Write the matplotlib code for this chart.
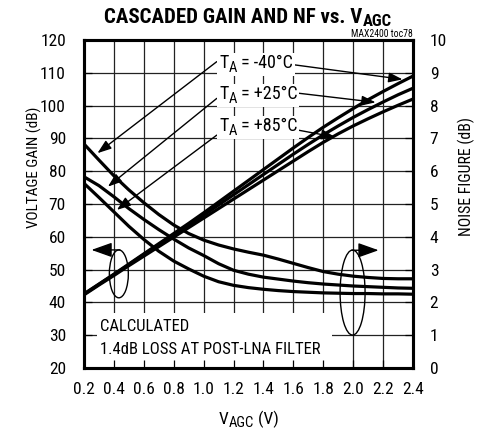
import numpy as np
import matplotlib
matplotlib.use('Agg')
import matplotlib.pyplot as plt
from matplotlib import font_manager as fm
from matplotlib.font_manager import FontProperties
from matplotlib.transforms import IdentityTransform
from matplotlib.patches import Ellipse, Rectangle


def find_narrow(bold=False):
    # look for a condensed sans face among the installed fonts
    best = None
    for f in fm.fontManager.ttflist:
        narrow = ('Narrow' in f.name or 'Condensed' in f.name
                  or 'condensed' in str(f.stretch)
                  or 'Narrow' in f.fname or 'Condensed' in f.fname)
        if not narrow or f.style != 'normal':
            continue
        w = f.weight if isinstance(f.weight, int) else 700 if 'bold' in str(f.weight) else 400
        ok = (w >= 600) if bold else (w < 600)
        if not ok:
            continue
        score = 0
        if 'Liberation' in f.name:
            score = 3
        elif 'Roboto' in f.name:
            score = 2
        elif 'DejaVu' in f.name:
            score = 1
        if best is None or score > best[0]:
            best = (score, f.fname)
    return best[1] if best else None


reg_file = find_narrow(False)
bold_file = find_narrow(True)
if reg_file:
    fp_reg = lambda s: FontProperties(fname=reg_file, size=s)
else:
    fp_reg = lambda s: FontProperties(family='Liberation Sans', size=s * 0.85)
if bold_file:
    fp_bold = lambda s: FontProperties(fname=bold_file, size=s)
else:
    fp_bold = lambda s: FontProperties(family='Liberation Sans', weight='bold', size=s * 0.85)

vagc = [0.2, 0.3, 0.4, 0.5, 0.6, 0.7, 0.8, 0.9, 1.0, 1.1, 1.2, 1.3,
        1.4, 1.5, 1.6, 1.7, 1.8, 1.9, 2.0, 2.1, 2.2, 2.3, 2.4]

# cascaded voltage gain (dB)
gain_m40 = [42.6, 45.6, 48.6, 51.7, 54.8, 57.9, 61.0, 64.1, 67.3, 70.6, 73.9, 77.2,
            80.5, 83.8, 87.1, 90.3, 93.4, 96.3, 99.1, 101.8, 104.3, 106.7, 109.0]
gain_p25 = [42.5, 45.5, 48.5, 51.5, 54.6, 57.6, 60.6, 63.6, 66.6, 69.7, 72.8, 75.9,
            79.0, 82.1, 85.2, 88.2, 91.1, 93.8, 96.4, 98.8, 101.1, 103.3, 105.3]
gain_p85 = [42.3, 45.3, 48.2, 51.2, 54.1, 57.0, 59.9, 62.8, 65.7, 68.6, 71.5, 74.4,
            77.3, 80.2, 83.1, 86.0, 88.8, 91.4, 93.8, 96.0, 98.1, 100.1, 102.0]

# cascaded noise figure (dB)
nf_m40 = [6.83, 6.34, 5.86, 5.43, 5.04, 4.68, 4.36, 4.10, 3.90, 3.75, 3.63, 3.53,
          3.44, 3.32, 3.19, 3.06, 2.94, 2.86, 2.80, 2.76, 2.73, 2.72, 2.72]
nf_p25 = [5.83, 5.56, 5.22, 4.86, 4.53, 4.22, 3.93, 3.66, 3.43, 3.18, 2.98, 2.86,
          2.77, 2.71, 2.65, 2.60, 2.56, 2.53, 2.50, 2.48, 2.46, 2.44, 2.43]
nf_p85 = [5.63, 5.20, 4.76, 4.32, 3.92, 3.56, 3.26, 3.02, 2.80, 2.63, 2.52, 2.45,
          2.40, 2.36, 2.33, 2.31, 2.29, 2.28, 2.27, 2.27, 2.26, 2.26, 2.25]

temps = ['-40°C', '+25°C', '+85°C']

xticks = np.arange(0.2, 2.41, 0.2)
gticks = np.arange(20, 121, 10)
nticks = np.arange(0, 11, 1)

W, H = 479, 434
fig = plt.figure(figsize=(W / 100, H / 100), dpi=100)
ax = fig.add_axes([84/W, 1-368/H, 329/W, 328/H])
ax2 = ax.twinx()

ax.set_xlim(0.2, 2.4)
ax.set_ylim(20, 120)
ax2.set_ylim(0, 10)

# grid drawn by hand so the white note boxes can sit over it
ax.vlines(xticks, 20, 120, color='#222222', lw=0.9, zorder=1)
ax.hlines(gticks, 0.2, 2.4, color='#222222', lw=0.9, zorder=1)

ax.add_patch(Rectangle((0.287, 20), 1.572, 16.8, facecolor='white',
                       edgecolor='none', zorder=1.2))
ax.text(0.31, 32.6, 'CALCULATED', fontproperties=fp_reg(12),
        va='center', ha='left', zorder=3)
ax.text(0.31, 25.5, '1.4dB LOSS AT POST-LNA FILTER', fontproperties=fp_reg(12),
        va='center', ha='left', zorder=3)

lw = 2.3
for g in (gain_m40, gain_p25, gain_p85):
    ax.plot(vagc, g, color='black', lw=lw, zorder=2, solid_capstyle='butt')
for n in (nf_m40, nf_p25, nf_p85):
    ax2.plot(vagc, n, color='black', lw=lw, zorder=2, solid_capstyle='butt')

ax.set_xticks(xticks)
ax.set_xticklabels(['%.1f' % v for v in xticks])
ax.set_yticks(gticks)
ax2.set_yticks(nticks)
for a in (ax, ax2):
    a.tick_params(direction='in', length=6, width=0.9)
    for s in a.spines.values():
        s.set_linewidth(2.2)
    for lbl in a.get_xticklabels() + a.get_yticklabels():
        lbl.set_fontproperties(fp_reg(12.5))
ax.tick_params(axis='x', pad=10)
ax.tick_params(axis='y', pad=13)
ax2.tick_params(axis='y', pad=12)


def runs(x, y, parts, bg=False):
    # write pieces of text one after another from pixel x, baseline pixel y
    # (counted from the top); each piece is (text, font, drop in pixels)
    fig.canvas.draw()
    r = fig.canvas.get_renderer()
    x0 = x
    y0, y1 = None, None
    for s, fp, dy in parts:
        t = fig.text(x, H - y - dy, s, fontproperties=fp, ha='left',
                     va='baseline', transform=IdentityTransform(), zorder=5)
        bb = t.get_window_extent(r)
        x = bb.x1
        y0 = bb.y0 if y0 is None else min(y0, bb.y0)
        y1 = bb.y1 if y1 is None else max(y1, bb.y1)
    if bg:
        # one white patch behind the whole label
        fig.patches.append(Rectangle((x0 - 2, y0 - 1), x - x0 + 4, y1 - y0 + 2,
                                     facecolor='white', edgecolor='none',
                                     transform=IdentityTransform(), zorder=4.5,
                                     figure=fig))


# temperature labels with leader arrows
label_base = [68, 99, 131]
left_from = [(1.088, 113.4), (1.088, 102.2), (1.088, 91.0)]
left_tip = [(0.29, 85.5), (0.36, 75.3), (0.42, 68.2)]
right_from = [(1.611, 112.4), (1.611, 103.9), (1.623, 92.6)]
right_tip = [(2.33, 108.0), (2.15, 101.0), (1.88, 90.4)]

head = dict(arrowstyle='-|>,head_length=0.7,head_width=0.25', color='black',
            lw=1.0, mutation_scale=12, shrinkA=0, shrinkB=0)
for i, txt in enumerate(temps):
    runs(219, label_base[i], [('T', fp_reg(13), 0), ('A', fp_reg(10.5), 4),
                              (' = ' + txt, fp_reg(13), 0)], bg=True)
    ax.annotate('', xy=left_tip[i], xytext=left_from[i], arrowprops=head, zorder=4)
    ax.annotate('', xy=right_tip[i], xytext=right_from[i], arrowprops=head, zorder=4)

# ellipses marking which axis each family uses
big = dict(arrowstyle='-|>,head_length=0.9,head_width=0.32', color='black',
           lw=1.0, mutation_scale=14, shrinkA=0, shrinkB=0)
ax.add_patch(Ellipse((0.433, 48.7), 0.127, 14.6, fill=False, lw=1.0,
                     edgecolor='black', zorder=3))
ax.annotate('', xy=(0.25, 56.0), xytext=(0.44, 56.0), arrowprops=big, zorder=4)
ax.add_patch(Ellipse((1.996, 43.0), 0.167, 25.9, fill=False, lw=1.0,
                     edgecolor='black', zorder=3))
ax.annotate('', xy=(2.17, 55.9), xytext=(1.99, 55.9), arrowprops=big, zorder=4)

runs(104, 23, [('CASCADED GAIN AND NF vs. V', fp_bold(15), 0),
               ('AGC', fp_bold(12), 3)])
fig.text(413/W, 1-34/H, 'MAX2400 toc78', fontproperties=fp_reg(7),
         ha='right', va='center')
fig.text(34/W, 1-167/H, 'VOLTAGE GAIN (dB)', fontproperties=fp_reg(11),
         rotation=90, ha='center', va='center')
fig.text(466/W, 1-176/H, 'NOISE FIGURE (dB)', fontproperties=fp_reg(11.3),
         rotation=90, ha='center', va='center')
runs(219, 424, [('V', fp_reg(12.5), 0), ('AGC', fp_reg(10.5), 3),
                (' (V)', fp_reg(12.5), 0)])

fig.savefig('out.png', dpi=100)
